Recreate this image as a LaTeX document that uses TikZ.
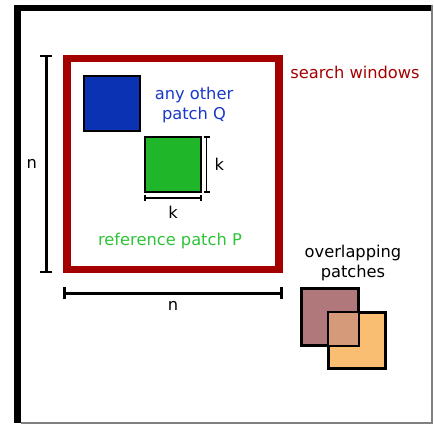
\documentclass[tikz,border=0pt]{standalone}
\usepackage{fontspec}
\setmainfont{DejaVu Sans}
\usetikzlibrary{arrows.meta,calc}

\definecolor{winred}{RGB}{165,0,0}
\definecolor{qblue}{RGB}{12,50,180}
\definecolor{qtext}{RGB}{25,55,200}
\definecolor{pgreen}{RGB}{32,182,42}
\definecolor{ptext}{RGB}{45,195,55}
\definecolor{mauve}{RGB}{176,120,122}
\definecolor{peach}{RGB}{250,190,115}
\definecolor{blend}{RGB}{212,154,122}

\begin{document}
\begin{tikzpicture}[
  x=0.75pt,y=-0.75pt,
  font=\fontsize{12.2}{15.6}\selectfont,
  patch/.style={draw,line width=1.4pt,minimum size=41.5pt,inner sep=0pt},
  dim/.style={{Bar[width=9pt]}-{Bar[width=9pt]},line width=1.6pt},
  kdim/.style={{Bar[width=4.5pt]}-{Bar[width=4.5pt]},line width=1.3pt}
]
  \useasboundingbox (0,0) rectangle (434,425);
  % frame of the screenshot
  \fill (14,5) rectangle (432,11);
  \fill (14,5) rectangle (21,423);
  \draw[gray,line width=0.8pt] (432,5) -- (432,423) -- (21,423);

  \node[draw=winred,line width=5.3pt,minimum width=159pt,minimum height=158.5pt]
    (W) at (173,164.25) {};
  \node[text=winred] (Wlab) at (355,72) {search windows};

  \node[patch,fill=qblue] (Q) at (112,103.5) {};
  \node[text=qtext,align=center] (Qlab) at (194,105) {any other\\patch Q};

  \node[patch,fill=pgreen] (P) at (173,164.5) {};
  \node[text=ptext] (Plab) at (170,241) {reference patch P};

  % sizes
  \draw[dim] ($(W.north west)+(-17,0)$) -- ($(W.south west)+(-17,0)$)
    node[midway,left=3pt] {n};
  \draw[dim] ($(W.south west)+(0,20)$) -- ($(W.south east)+(0,20)$)
    node[midway,below=2pt] {n};
  \draw[kdim] ($(P.north east)+(5,0)$) -- ($(P.south east)+(5,0)$)
    node[midway,right=2pt] {k};
  \draw[kdim] ($(P.south west)+(0,5)$) -- ($(P.south east)+(0,5)$)
    node[midway,below=2pt] {k};

  % overlapping patches
  \node[align=center] (Olab) at (353,263) {overlapping\\patches};
  \node[patch,fill=mauve] (A) at (330,317) {};
  \node[patch,fill=peach] (B) at (357,340.5) {};
  \fill[blend] (B.north west) rectangle (A.south east);
  \draw[line width=1.4pt] (A.north west) rectangle (A.south east);
  \draw[line width=1.4pt] (B.north west) rectangle (B.south east);
\end{tikzpicture}
\end{document}
